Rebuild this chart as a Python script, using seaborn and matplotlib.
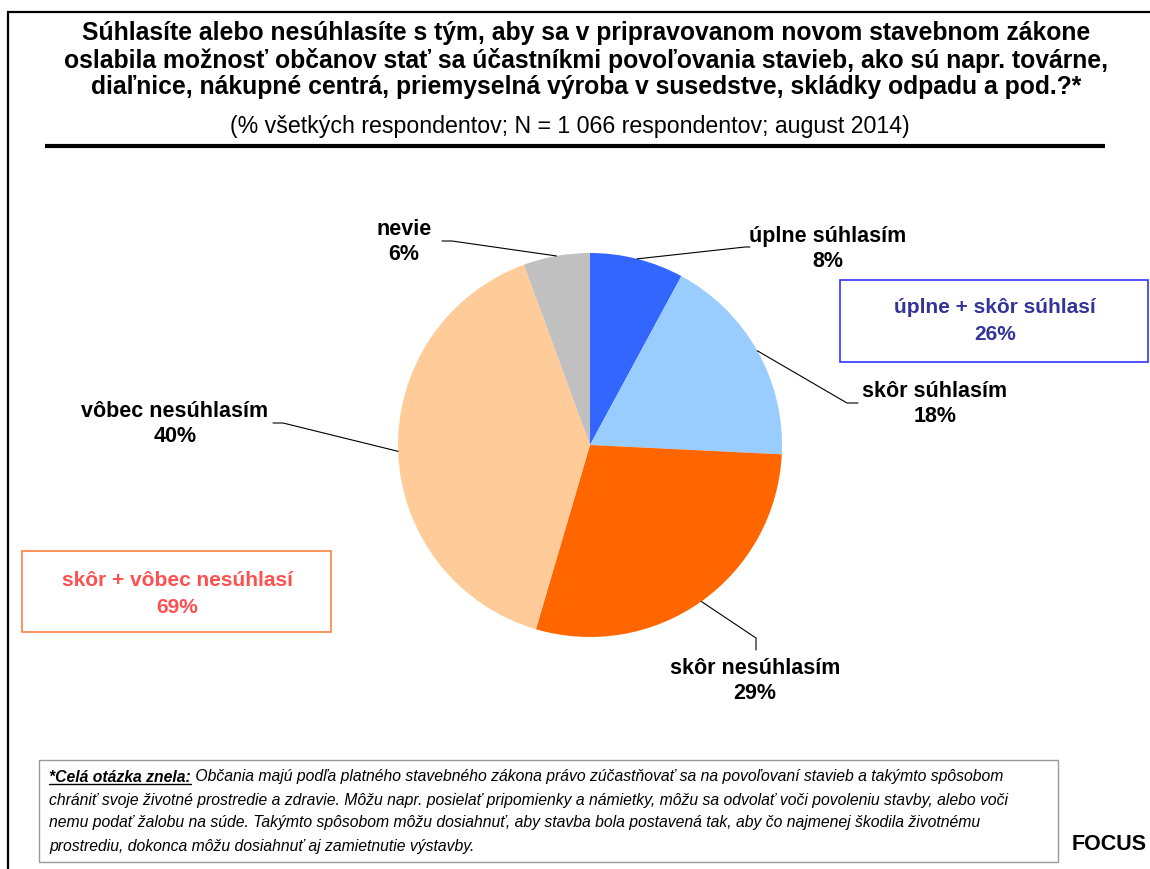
import matplotlib as mpl

mpl.use('Agg')
import matplotlib.pyplot as plt
from matplotlib.patches import Rectangle
import seaborn as sns
import numpy as np

sns.set_style("white")
plt.rcParams['font.family'] = ['Liberation Sans', 'DejaVu Sans']
plt.rcParams['text.color'] = 'black'

W, H = 1150, 869

# data
categories = ['úplne súhlasím', 'skôr súhlasím', 'skôr nesúhlasím', 'vôbec nesúhlasím', 'nevie']
shares = [7.9, 17.9, 28.8, 39.9, 5.6]
pct_labels = ['8%', '18%', '29%', '40%', '6%']
slice_colours = ['#3366FF', '#99CCFF', '#FF6600', '#FFCC99', '#C0C0C0']
group_names = ['úplne + skôr súhlasí', 'skôr + vôbec nesúhlasí']
group_pcts = ['26%', '69%']

title = ("Súhlasíte alebo nesúhlasíte s tým, aby sa v pripravovanom novom stavebnom zákone\n"
         "oslabila možnosť občanov stať sa účastníkmi povoľovania stavieb, ako sú napr. továrne,\n"
         "diaľnice, nákupné centrá, priemyselná výroba v susedstve, skládky odpadu a pod.?*")
subtitle = "(% všetkých respondentov; N = 1 066 respondentov; august 2014)"
note_head = "*Celá otázka znela:"
note_lines = [
    " Občania majú podľa platného stavebného zákona právo zúčastňovať sa na povoľovaní stavieb a takýmto spôsobom",
    "chrániť svoje životné prostredie a zdravie. Môžu napr. posielať pripomienky a námietky, môžu sa odvolať voči povoleniu stavby, alebo voči",
    "nemu podať žalobu na súde. Takýmto spôsobom môžu dosiahnuť, aby stavba bola postavená tak, aby čo najmenej škodila životnému",
    "prostrediu, dokonca môžu dosiahnuť aj zamietnutie výstavby.",
]

# layout (pixels, y measured from top)
label_pos = [(828, 249), (935, 404), (755, 681), (175, 424), (404, 242)]
elbow_pos = [(745, 247), (847, 403), (756, 638), (283, 423), (452, 241)]
end_pos = [(750, 247), (858, 403), (756, 650), (273, 423), (442, 241)]


def Y(v):
    return H - v


fig = plt.figure(figsize=(W / 100, H / 100), dpi=100)
ax = fig.add_axes([0, 0, 1, 1])

cx, cy, r = 590, Y(445), 192
colours = sns.color_palette(slice_colours)
wedges, _ = ax.pie(shares, colors=colours, startangle=90, counterclock=False,
                   center=(cx, cy), radius=r, wedgeprops=dict(linewidth=0))
ax.set_xlim(0, W)
ax.set_ylim(0, H)
ax.set_aspect('equal')
ax.axis('off')

# leader lines + labels
for w, name, pct, lp, ep, tp in zip(wedges, categories, pct_labels, label_pos, elbow_pos, end_pos):
    ang = np.deg2rad((w.theta1 + w.theta2) / 2)
    px, py = cx + r * np.cos(ang), cy + r * np.sin(ang)
    ax.plot([px, ep[0], tp[0]], [py, Y(ep[1]), Y(tp[1])], color='black', lw=0.8)
    ax.text(lp[0], Y(lp[1]), f"{name}\n{pct}", ha='center', va='center',
            fontsize=15.5, fontweight='bold', linespacing=1.3)

# group boxes
ax.add_patch(Rectangle((840, Y(362)), 308, 82, fill=False, edgecolor='#3333FF', lw=1.2))
ax.text(995, Y(321), f"{group_names[0]}\n{group_pcts[0]}", ha='center', va='center',
        fontsize=15, fontweight='bold', color='#333399', linespacing=1.55)
ax.add_patch(Rectangle((22, Y(632)), 309, 81, fill=False, edgecolor='#FF8040', lw=1.2))
ax.text(177, Y(594), f"{group_names[1]}\n{group_pcts[1]}", ha='center', va='center',
        fontsize=15, fontweight='bold', color='#FF5050', linespacing=1.55)

# title block
ax.text(586, Y(60), title, ha='center', va='center', fontsize=17.8, fontweight='bold',
        linespacing=1.14)
ax.text(570, Y(126), subtitle, ha='center', va='center', fontsize=16.7)
ax.plot([45, 1105], [Y(146), Y(146)], color='black', lw=3, solid_capstyle='butt')
# frame
ax.plot([8, 8, W], [0, Y(12), Y(12)], color='black', lw=1.6, solid_joinstyle='miter')

# footnote
ax.add_patch(Rectangle((39, Y(862)), 1019, 102, fill=False, edgecolor='#999999', lw=1))
line_y = [777, 800, 822, 846]
fig.canvas.draw()
renderer = fig.canvas.get_renderer()
head = ax.text(49, Y(line_y[0]), note_head, ha='left', va='center', fontsize=11.3,
               fontweight='bold', fontstyle='italic')
bb = head.get_window_extent(renderer=renderer)
ax.plot([bb.x0, bb.x1], [bb.y0 + 1, bb.y0 + 1], color='black', lw=1)
ax.text(bb.x1, Y(line_y[0]), note_lines[0], ha='left', va='center', fontsize=11.3,
        fontstyle='italic')
for yy, txt in zip(line_y[1:], note_lines[1:]):
    ax.text(49, Y(yy), txt, ha='left', va='center', fontsize=11.3, fontstyle='italic')

ax.text(1109, Y(845), "FOCUS", ha='center', va='center', fontsize=15.5, fontweight='bold')

fig.savefig('out.png', dpi=100)
